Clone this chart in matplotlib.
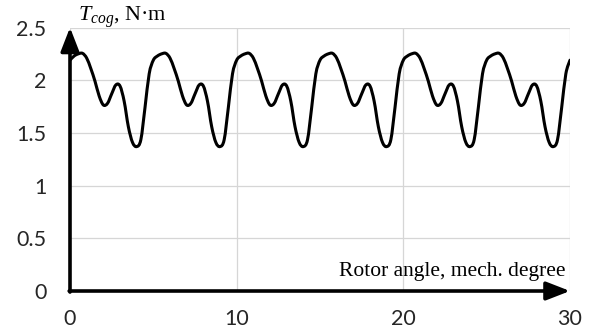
import numpy as np
import matplotlib
matplotlib.use("Agg")
import matplotlib.pyplot as plt
from matplotlib.path import Path
from matplotlib.patches import PathPatch

# Cogging torque sampled every 0.25 mech. degree over 0..30 deg
angle_step = 0.25
torque = [
    2.19, 2.23, 2.25, 2.255, 2.21, 2.11, 1.99, 1.85, 1.765, 1.78,
    1.87, 1.955, 1.945, 1.80, 1.56, 1.41, 1.37, 1.435, 1.74, 2.06,
    2.19, 2.23, 2.25, 2.255, 2.21, 2.11, 1.99, 1.85, 1.765, 1.78,
    1.87, 1.955, 1.945, 1.80, 1.56, 1.41, 1.37, 1.435, 1.74, 2.06,
    2.19, 2.23, 2.25, 2.255, 2.21, 2.11, 1.99, 1.85, 1.765, 1.78,
    1.87, 1.955, 1.945, 1.80, 1.56, 1.41, 1.37, 1.435, 1.74, 2.06,
    2.19, 2.23, 2.25, 2.255, 2.21, 2.11, 1.99, 1.85, 1.765, 1.78,
    1.87, 1.955, 1.945, 1.80, 1.56, 1.41, 1.37, 1.435, 1.74, 2.06,
    2.19, 2.23, 2.25, 2.255, 2.21, 2.11, 1.99, 1.85, 1.765, 1.78,
    1.87, 1.955, 1.945, 1.80, 1.56, 1.41, 1.37, 1.435, 1.74, 2.06,
    2.19, 2.23, 2.25, 2.255, 2.21, 2.11, 1.99, 1.85, 1.765, 1.78,
    1.87, 1.955, 1.945, 1.80, 1.56, 1.41, 1.37, 1.435, 1.74, 2.06,
    2.19,
]
x_ticks = [0, 10, 20, 30]
y_ticks = [0, 0.5, 1, 1.5, 2, 2.5]
x_label = "Rotor angle, mech. degree"
y_label = r"$T_{cog}$, N·m"

plt.rcParams["mathtext.fontset"] = "custom"
plt.rcParams["mathtext.rm"] = "Liberation Serif"
plt.rcParams["mathtext.it"] = "Liberation Serif:italic"


def smooth_path(xs, ys):
    """Catmull-Rom curve through the points, as cubic Bezier segments."""
    pts = np.column_stack([xs, ys])
    verts = [pts[0]]
    codes = [Path.MOVETO]
    n = len(pts)
    for i in range(n - 1):
        p0 = pts[max(i - 1, 0)]
        p1 = pts[i]
        p2 = pts[i + 1]
        p3 = pts[min(i + 2, n - 1)]
        c1 = p1 + (p2 - p0) / 6.0
        c2 = p2 - (p3 - p1) / 6.0
        verts += [c1, c2, p2]
        codes += [Path.CURVE4] * 3
    return Path(verts, codes)


angles = np.arange(len(torque)) * angle_step

fig = plt.figure(figsize=(5.9, 3.33), dpi=100)
ax = fig.add_axes([70 / 590, 42 / 333, 500 / 590, 263.5 / 333])
ax.set_xlim(0, 30)
ax.set_ylim(0, 2.5)

for s in ax.spines.values():
    s.set_visible(False)
ax.set_xticks(x_ticks)
ax.set_yticks(y_ticks)
ax.set_yticklabels([f"{v:g}" for v in y_ticks])
ax.tick_params(length=0, labelsize=15.5, colors="#262626")
ax.tick_params(axis="x", pad=13)
ax.tick_params(axis="y", pad=17)
for lbl in ax.get_xticklabels() + ax.get_yticklabels():
    lbl.set_fontfamily("Lato")
ax.grid(True, color="#d6d6d6", lw=0.9)
ax.set_axisbelow(True)

# torque curve
curve = PathPatch(smooth_path(angles, torque), fill=False, edgecolor="black",
                  lw=2.2, transform=ax.transData, capstyle="round", joinstyle="round")
ax.add_patch(curve)

# axis arrows
arrow = dict(arrowstyle="-|>,head_length=0.9,head_width=0.35", lw=2.6,
             color="black", shrinkA=0, shrinkB=0, mutation_scale=16)
ax.annotate("", xy=(30, 0), xytext=(-0.05, 0), arrowprops=arrow, annotation_clip=False)
ax.annotate("", xy=(0, 2.5), xytext=(0, -0.01), arrowprops=arrow, annotation_clip=False)

ax.text(29.75, 0.14, x_label, ha="right", va="baseline", fontsize=15.5,
        fontfamily="Liberation Serif", color="black")
ax.text(0.45, 2.56, y_label, ha="left", va="baseline", fontsize=16,
        fontfamily="Liberation Serif", color="black", clip_on=False)

fig.savefig("out.png", dpi=100)
